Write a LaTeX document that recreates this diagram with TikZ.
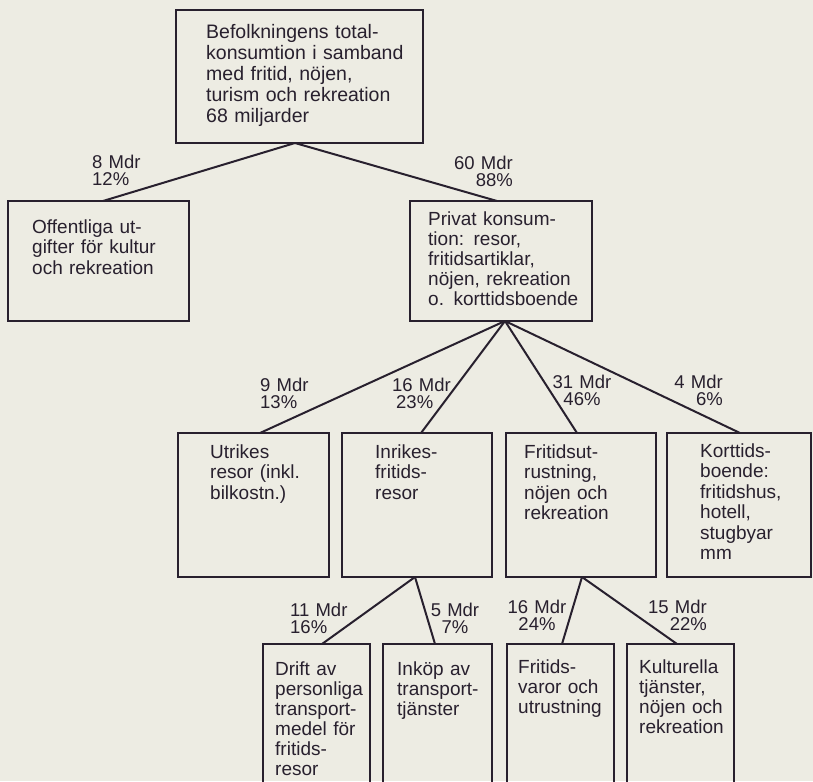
\documentclass[tikz,border=0pt]{standalone}
\usepackage{fontspec}
\setmainfont{Liberation Sans}
\definecolor{paper}{RGB}{237,236,227}
\definecolor{ink}{RGB}{40,32,46}
\begin{document}
\begin{tikzpicture}[x=1pt,y=-1pt,
  box/.style={draw=ink, line width=2.4pt, inner sep=0pt, outer sep=0pt},
  conn/.style={draw=ink, line width=2pt},
  btext/.style={anchor=base west, inner sep=0pt, text=ink, align=left, text width=200pt,
    font=\fontsize{19}{20.5}\selectfont},
  lbl/.style={inner sep=0pt, text=ink, text width=80pt, font=\fontsize{18.5}{17.5}\selectfont},
  lblL/.style={lbl, anchor=base west, align=left},
  lblR/.style={lbl, anchor=base east, align=right},
  lblC/.style={lbl, anchor=base, align=center}]
\useasboundingbox (0,0) rectangle (813,781);
\clip (0,0) rectangle (813,781);
\fill[paper] (0,0) rectangle (813,781);

% boxes
\node[box, minimum width=247pt, minimum height=133pt] (top) at (299.5,76.5) {};
\node[box, minimum width=181pt, minimum height=120pt] (pub) at (98.5,261) {};
\node[box, minimum width=182pt, minimum height=120pt] (priv) at (501,261) {};
\node[box, minimum width=151pt, minimum height=144pt] (utr) at (253.5,505) {};
\node[box, minimum width=150pt, minimum height=144pt] (inr) at (417,505) {};
\node[box, minimum width=150pt, minimum height=144pt] (fri) at (581,505) {};
\node[box, minimum width=144pt, minimum height=144pt] (kort) at (739,505) {};
\node[box, minimum width=107pt, minimum height=156pt] (drift) at (316.5,722) {};
\node[box, minimum width=109pt, minimum height=156pt] (inkop) at (437.5,722) {};
\node[box, minimum width=107pt, minimum height=156pt] (frvar) at (560.5,722) {};
\node[box, minimum width=107pt, minimum height=156pt] (kult) at (680.5,722) {};

% box texts
\node[btext, font=\fontsize{19.5}{21}\selectfont] (tTop) at (206,39)
  {Befolkningens total-\\konsumtion i samband\\med fritid, nöjen,\\turism och rekreation\\68 miljarder};
\node[btext] (tPub) at (32,233) {Offentliga ut-\\gifter för kultur\\och rekreation};
\node[btext, font=\fontsize{19}{20}\selectfont] (tPriv) at (428,225)
  {Privat konsum-\\tion: resor,\\fritidsartiklar,\\nöjen, rekreation\\o. korttidsboende};
\node[btext] (tUtr) at (210,458) {Utrikes\\resor (inkl.\\bilkostn.)};
\node[btext] (tInr) at (375,458) {Inrikes-\\fritids-\\resor};
\node[btext] (tFri) at (524,458) {Fritidsut-\\rustning,\\nöjen och\\rekreation};
\node[btext, font=\fontsize{19}{20.5}\selectfont] (tKort) at (700,457)
  {Korttids-\\boende:\\fritidshus,\\hotell,\\stugbyar\\mm};
\node[btext, font=\fontsize{19}{20}\selectfont] (tDrift) at (275,675)
  {Drift av\\personliga\\transport-\\medel för\\fritids-\\resor};
\node[btext, font=\fontsize{19}{20}\selectfont] (tInkop) at (397,675) {Inköp av\\transport-\\tjänster};
\node[btext, font=\fontsize{19}{20}\selectfont] (tFrvar) at (518,673) {Fritids-\\varor och\\utrustning};
\node[btext, font=\fontsize{19}{20}\selectfont] (tKult) at (639,673) {Kulturella\\tjänster,\\nöjen och\\rekreation};

% connectors
\draw[conn] ([xshift=-4.5pt]top.south) -- ([xshift=4.5pt]pub.north);
\draw[conn] ([xshift=-4.5pt]top.south) -- ([xshift=-4pt]priv.north);
\draw[conn] ([xshift=4pt]priv.south) -- ([xshift=6.5pt]utr.north);
\draw[conn] ([xshift=4pt]priv.south) -- ([xshift=4pt]inr.north);
\draw[conn] ([xshift=4pt]priv.south) -- ([xshift=-4pt]fri.north);
\draw[conn] ([xshift=4pt]priv.south) -- ([xshift=1pt]kort.north);
\draw[conn] ([xshift=-2pt]inr.south) -- ([xshift=5.5pt]drift.north);
\draw[conn] ([xshift=-2pt]inr.south) -- ([xshift=-2.5pt]inkop.north);
\draw[conn] ([xshift=1pt]fri.south) -- ([xshift=1.5pt]frvar.north);
\draw[conn] ([xshift=1pt]fri.south) -- ([xshift=-3.5pt]kult.north);

% labels
\node[lblL] (l8) at (92,168) {8 Mdr\\12\%};
\node[lblR] (l60) at (513,169) {60 Mdr\\88\%};
\node[lblL] (l9) at (260,391) {9 Mdr\\13\%};
\node[lblL] (l16a) at (392,391) {16 Mdr\\\hspace*{4pt}23\%};
\node[lblC] (l31) at (582,388) {31 Mdr\\46\%};
\node[lblR] (l4) at (723,388) {4 Mdr\\6\%};
\node[lblL] (l11) at (290,616) {11 Mdr\\16\%};
\node[lblC] (l5) at (455,616) {5 Mdr\\7\%};
\node[lblC] (l16b) at (537,613) {16 Mdr\\24\%};
\node[lblR] (l15) at (707,613) {15 Mdr\\22\%};
\end{tikzpicture}
\end{document}
